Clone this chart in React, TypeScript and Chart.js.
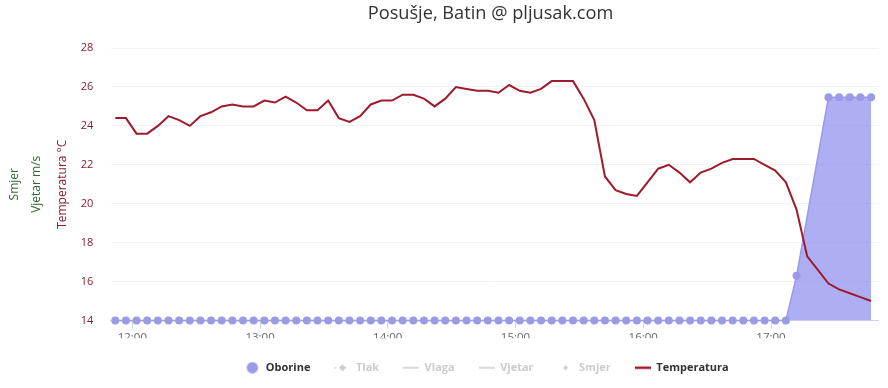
import React, { useEffect, useRef } from 'react';
import { Chart, registerables } from 'chart.js';

Chart.register(...registerables);

// ---- data ----
const times: string[] = [
  '11:52', '11:57',
  '12:02', '12:07', '12:12', '12:17', '12:22', '12:27', '12:32', '12:37', '12:42', '12:47', '12:52', '12:57',
  '13:02', '13:07', '13:12', '13:17', '13:22', '13:27', '13:32', '13:37', '13:42', '13:47', '13:52', '13:57',
  '14:02', '14:07', '14:12', '14:17', '14:22', '14:27', '14:32', '14:37', '14:42', '14:47', '14:52', '14:57',
  '15:02', '15:07', '15:12', '15:17', '15:22', '15:27', '15:32', '15:37', '15:42', '15:47', '15:52', '15:57',
  '16:02', '16:07', '16:12', '16:17', '16:22', '16:27', '16:32', '16:37', '16:42', '16:47', '16:52', '16:57',
  '17:02', '17:07', '17:12', '17:17', '17:22', '17:27', '17:32', '17:37', '17:42', '17:47',
];

const temperatura: number[] = [
  24.4, 24.4, 23.6, 23.6, 24.0, 24.5, 24.3, 24.0, 24.5, 24.7, 25.0, 25.1,
  25.0, 25.0, 25.3, 25.2, 25.5, 25.2, 24.8, 24.8, 25.3, 24.4, 24.2, 24.5,
  25.1, 25.3, 25.3, 25.6, 25.6, 25.4, 25.0, 25.4, 26.0, 25.9, 25.8, 25.8,
  25.7, 26.1, 25.8, 25.7, 25.9, 26.3, 26.3, 26.3, 25.4, 24.3, 21.4, 20.7,
  20.5, 20.4, 21.1, 21.8, 22.0, 21.6, 21.1, 21.6, 21.8, 22.1, 22.3, 22.3,
  22.3, 22.0, 21.7, 21.1, 19.7, 17.3, 16.6, 15.9, 15.6, 15.4, 15.2, 15.0,
];

const oborine: (number | null)[] = [
  0, 0, 0, 0, 0, 0, 0, 0, 0, 0, 0, 0,
  0, 0, 0, 0, 0, 0, 0, 0, 0, 0, 0, 0,
  0, 0, 0, 0, 0, 0, 0, 0, 0, 0, 0, 0,
  0, 0, 0, 0, 0, 0, 0, 0, 0, 0, 0, 0,
  0, 0, 0, 0, 0, 0, 0, 0, 0, 0, 0, 0,
  0, 0, 0, 0, 0.2, null, null, 1.0, 1.0, 1.0, 1.0, 1.0,
];

const seriesNames: string[] = ['Oborine', 'Tlak', 'Vlaga', 'Vjetar', 'Smjer', 'Temperatura'];
const seriesActive: boolean[] = [true, false, false, false, false, true];
const hourTicks: string[] = ['12:00', '13:00', '14:00', '15:00', '16:00', '17:00'];
const tempTicks = { min: 14, max: 28, step: 2 };

const TITLE = 'Posušje, Batin @ pljusak.com';

// ---- styles ----
const RAIN_COLOR = '#9a9ae6';
const RAIN_FILL = 'rgba(140,140,240,0.7)';
const TEMP_COLOR = '#9e1b2e';
const TEMP_TEXT = '#8a1c2b';
const GREEN = '#2f6b2f';
const HIDDEN_TEXT = '#cccccc';

const toMin = (s: string) => {
  const [h, m] = s.split(':').map(Number);
  return h * 60 + m;
};
const fmt = (v: number) => `${Math.floor(v / 60)}:${String(Math.round(v % 60)).padStart(2, '0')}`;

function makeSymbol(kind: string, color: string): HTMLCanvasElement {
  const c = document.createElement('canvas');
  c.width = 16;
  c.height = 12;
  const g = c.getContext('2d')!;
  g.strokeStyle = color;
  g.fillStyle = color;
  const cy = 6;
  const diamond = (r: number) => {
    g.beginPath();
    g.moveTo(8, cy - r);
    g.lineTo(8 + r, cy);
    g.lineTo(8, cy + r);
    g.lineTo(8 - r, cy);
    g.closePath();
    g.fill();
  };
  if (kind === 'circle') {
    g.beginPath();
    g.arc(8, cy, 5.7, 0, Math.PI * 2);
    g.fill();
  } else if (kind === 'dashDiamond') {
    g.lineWidth = 1;
    g.setLineDash([2, 3]);
    g.beginPath();
    g.moveTo(0, cy);
    g.lineTo(16, cy);
    g.stroke();
    g.setLineDash([]);
    diamond(3.5);
  } else if (kind === 'line') {
    g.lineWidth = 1.5;
    g.beginPath();
    g.moveTo(0, cy);
    g.lineTo(16, cy);
    g.stroke();
  } else if (kind === 'diamond') {
    diamond(2.5);
  } else if (kind === 'thickLine') {
    g.lineWidth = 2.5;
    g.beginPath();
    g.moveTo(0, cy);
    g.lineTo(16, cy);
    g.stroke();
  }
  return c;
}

export default function App() {
  const ref = useRef<HTMLCanvasElement | null>(null);

  useEffect(() => {
    if (!ref.current) return;
    Chart.defaults.font.family = "'Open Sans', sans-serif";

    const xs = times.map(toMin);
    const symbols = [
      makeSymbol('circle', RAIN_COLOR),
      makeSymbol('dashDiamond', HIDDEN_TEXT),
      makeSymbol('line', HIDDEN_TEXT),
      makeSymbol('line', HIDDEN_TEXT),
      makeSymbol('diamond', HIDDEN_TEXT),
      makeSymbol('thickLine', TEMP_COLOR),
    ];

    const chartLeft = 110.5;
    const chartRight = 878.5;
    const pxPerMin = 2.129;
    const xMin = 720 - (132.3 - chartLeft) / pxPerMin;
    const xMax = 1020 + (chartRight - 771) / pxPerMin;

    const shiftPlugin = {
      id: 'shiftBlocks',
      afterLayout(chart: any) {
        const l = chart.legend;
        if (l) {
          l.left -= 8;
          l.right -= 8;
        }
        const t = chart.titleBlock;
        if (t) {
          t.left -= 4;
          t.right -= 4;
        }
      },
    };

    const datasets: any[] = [
      {
        label: seriesNames[0],
        data: xs.map((x, i) => ({ x, y: oborine[i] })),
        yAxisID: 'yRain',
        borderColor: RAIN_COLOR,
        borderWidth: 1.5,
        backgroundColor: RAIN_FILL,
        fill: 'origin',
        pointRadius: 4,
        pointHoverRadius: 4,
        pointBackgroundColor: RAIN_COLOR,
        pointBorderWidth: 0,
        spanGaps: true,
        tension: 0,
        clip: false,
        order: 1,
      },
      ...[1, 2, 3, 4].map((k) => ({
        label: seriesNames[k],
        data: [],
        yAxisID: 'y',
        hidden: true,
        borderColor: HIDDEN_TEXT,
        backgroundColor: HIDDEN_TEXT,
        order: 2,
      })),
      {
        label: seriesNames[5],
        data: xs.map((x, i) => ({ x, y: temperatura[i] })),
        yAxisID: 'y',
        borderColor: TEMP_COLOR,
        borderWidth: 2,
        pointRadius: 0,
        pointHoverRadius: 0,
        fill: false,
        tension: 0,
        order: 0,
      },
    ];

    const chart = new Chart(ref.current, {
      type: 'line',
      data: { datasets },
      plugins: [shiftPlugin],
      options: {
        responsive: false,
        maintainAspectRatio: false,
        animation: false,
        events: [],
        layout: { padding: { left: 0, right: 888 - chartRight, top: 0, bottom: 4.8 } },
        plugins: {
          tooltip: { enabled: false },
          title: {
            display: true,
            text: TITLE,
            fullSize: false,
            color: '#333333',
            font: { size: 18.2, weight: 'normal' },
            padding: { top: 3, bottom: 23.2 },
          },
          legend: {
            display: true,
            position: 'bottom',
            fullSize: false,
            onClick: () => {},
            labels: {
              usePointStyle: true,
              pointStyleWidth: 16,
              boxHeight: 11,
              padding: 24,
              font: { size: 11, weight: 'bold' },
              color: '#333333',
              generateLabels: (ch: any) =>
                ch.data.datasets.map((ds: any, i: number) => ({
                  text: ds.label,
                  fillStyle: 'transparent',
                  strokeStyle: 'transparent',
                  lineWidth: 0,
                  hidden: false,
                  pointStyle: symbols[i],
                  fontColor: seriesActive[i] ? '#333333' : HIDDEN_TEXT,
                  datasetIndex: i,
                })),
            },
          },
        },
        scales: {
          x: {
            type: 'linear',
            min: xMin,
            max: xMax,
            afterBuildTicks: (s: any) => {
              s.ticks = hourTicks.map((t) => ({ value: toMin(t) }));
            },
            afterFit: (s: any) => {
              s.height = 17.7;
            },
            ticks: {
              callback: (v: any) => fmt(Number(v)),
              color: '#666666',
              font: { size: 11.5 },
              padding: 2,
              maxRotation: 0,
              autoSkip: false,
            },
            grid: { drawOnChartArea: false, drawTicks: true, tickLength: 8, color: '#ccd6eb' },
            border: { display: true, color: '#ccd6eb' },
          },
          yDir: {
            type: 'linear',
            position: 'left',
            weight: 3,
            min: 0,
            max: 1,
            ticks: { display: false },
            grid: { display: false, drawTicks: false },
            border: { display: false },
            title: { display: true, text: 'Smjer', color: GREEN, font: { size: 12 }, padding: { top: 7, bottom: 0 } },
            afterFit: (s: any) => {
              s.width = 23;
            },
          },
          yWind: {
            type: 'linear',
            position: 'left',
            weight: 2,
            min: 0,
            max: 1,
            ticks: { display: false },
            grid: { display: false, drawTicks: false },
            border: { display: false },
            title: { display: true, text: 'Vjetar m/s', color: GREEN, font: { size: 12 }, padding: { top: 6.8, bottom: 0 } },
            afterFit: (s: any) => {
              s.width = 24;
            },
          },
          y: {
            type: 'linear',
            position: 'left',
            weight: 1,
            min: tempTicks.min,
            max: tempTicks.max,
            ticks: { stepSize: tempTicks.step, color: TEMP_TEXT, font: { size: 11 }, padding: 17.2 },
            grid: { color: '#f2f2f2', drawTicks: false },
            border: { display: false },
            title: {
              display: true,
              text: 'Temperatura °C',
              color: TEMP_TEXT,
              font: { size: 12 },
              padding: { top: 8.8, bottom: 0 },
            },
            afterFit: (s: any) => {
              s.width = chartLeft - 47;
            },
          },
          yRain: {
            type: 'linear',
            display: false,
            min: 0,
            max: 1.22,
          },
        },
      } as any,
    });

    return () => chart.destroy();
  }, []);

  return (
    <div style={{ position: 'absolute', left: 0, top: 0, width: 888, height: 388, background: '#ffffff' }}>
      <canvas ref={ref} width={888} height={388} style={{ display: 'block' }} />
    </div>
  );
}
